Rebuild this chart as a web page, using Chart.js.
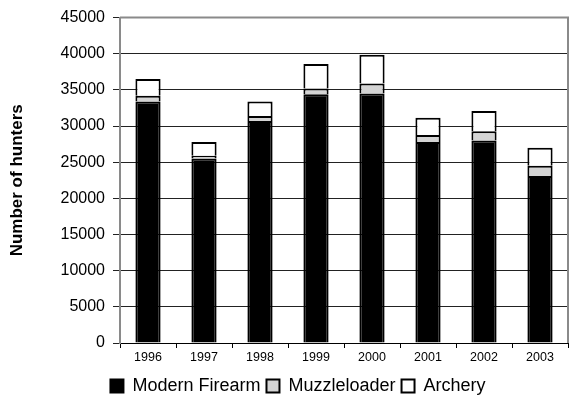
<!DOCTYPE html>
<html>
<head>
<meta charset="utf-8">
<script src="https://cdn.jsdelivr.net/npm/chart.js@4"></script>
<style>
    html, body { margin: 0; padding: 0; background: #fff; }
    #wrap { width: 571px; height: 411px; }
</style>
</head>
<body>
<div id="wrap"><canvas id="huntChart" width="571" height="411"></canvas></div>
<script>
const years = ['1996', '1997', '1998', '1999', '2000', '2001', '2002', '2003']
const modernFirearm = [33400, 25500, 30700, 34400, 34500, 27800, 28000, 23100]
const muzzleloader = [800, 400, 700, 800, 1400, 950, 1300, 1400]
const archery = [2300, 1900, 2000, 3400, 3950, 2400, 2800, 2500]

// gray box round the plot area, like the Excel frame
const plotFrame = {
    id: 'plotFrame',
    afterLayout(chart) {
        // legend sits a little right of the canvas centre in the original
        chart.legend.left += 14
        chart.legend.right += 14
    },
    afterDraw(chart) {
        const a = chart.chartArea
        const ctx = chart.ctx
        ctx.save()
        ctx.strokeStyle = '#8a8a8a'
        ctx.lineWidth = 2
        ctx.beginPath()
        ctx.moveTo(a.left, a.top)
        ctx.lineTo(a.right, a.top)
        ctx.lineTo(a.right, a.bottom)
        ctx.stroke()
        ctx.restore()
    }
}

const ctx = document.getElementById('huntChart').getContext('2d')
const huntChart = new Chart(ctx, {
    type: 'bar',
    data: {
        labels: years,
        datasets: [
            {
                label: 'Modern Firearm',
                data: modernFirearm,
                backgroundColor: '#000000',
                borderColor: '#000000',
                borderWidth: 2,
            },
            {
                label: 'Muzzleloader',
                data: muzzleloader,
                backgroundColor: '#d4d4d4',
                borderColor: '#000000',
                borderWidth: 2,
            },
            {
                label: 'Archery',
                data: archery,
                backgroundColor: '#ffffff',
                borderColor: '#000000',
                borderWidth: 2,
            },
        ]
    },
    options: {
        responsive: false,
        animation: false,
        layout: {
            padding: { top: 10, right: 3, left: 0, bottom: 6 }
        },
        datasets: {
            bar: {
                barPercentage: 0.45,
                categoryPercentage: 1,
            }
        },
        plugins: {
            tooltip: { enabled: false },
            legend: {
                position: 'bottom',
                labels: {
                    color: '#000',
                    font: { family: 'Liberation Sans, Arial, sans-serif', size: 18 },
                    boxWidth: 13,
                    boxHeight: 13,
                    padding: 6,
                }
            }
        },
        scales: {
            x: {
                stacked: true,
                grid: {
                    offset: true,
                    drawOnChartArea: false,
                    color: '#000',
                    tickLength: 5,
                },
                border: { color: '#000', width: 1 },
                ticks: {
                    color: '#000',
                    font: { family: 'Liberation Sans, Arial, sans-serif', size: 12.5 },
                    padding: 2,
                    maxRotation: 0,
                },
                afterFit(scale) { scale.height = 28 }
            },
            y: {
                stacked: true,
                min: 0,
                max: 45000,
                grid: {
                    color: '#222',
                    lineWidth: 1,
                    tickLength: 7,
                },
                border: { color: '#8a8a8a', width: 2 },
                ticks: {
                    stepSize: 5000,
                    color: '#000',
                    font: { family: 'Liberation Sans, Arial, sans-serif', size: 16 },
                    padding: 8,
                    callback: (v) => String(v),
                },
                title: {
                    display: true,
                    text: 'Number of hunters',
                    color: '#000',
                    font: { family: 'Liberation Sans, Arial, sans-serif', size: 17, weight: 'bold' },
                    padding: { top: 7, bottom: 2 },
                },
                afterFit(scale) { scale.width = 120 }
            }
        }
    },
    plugins: [plotFrame]
})
</script>
</body>
</html>
